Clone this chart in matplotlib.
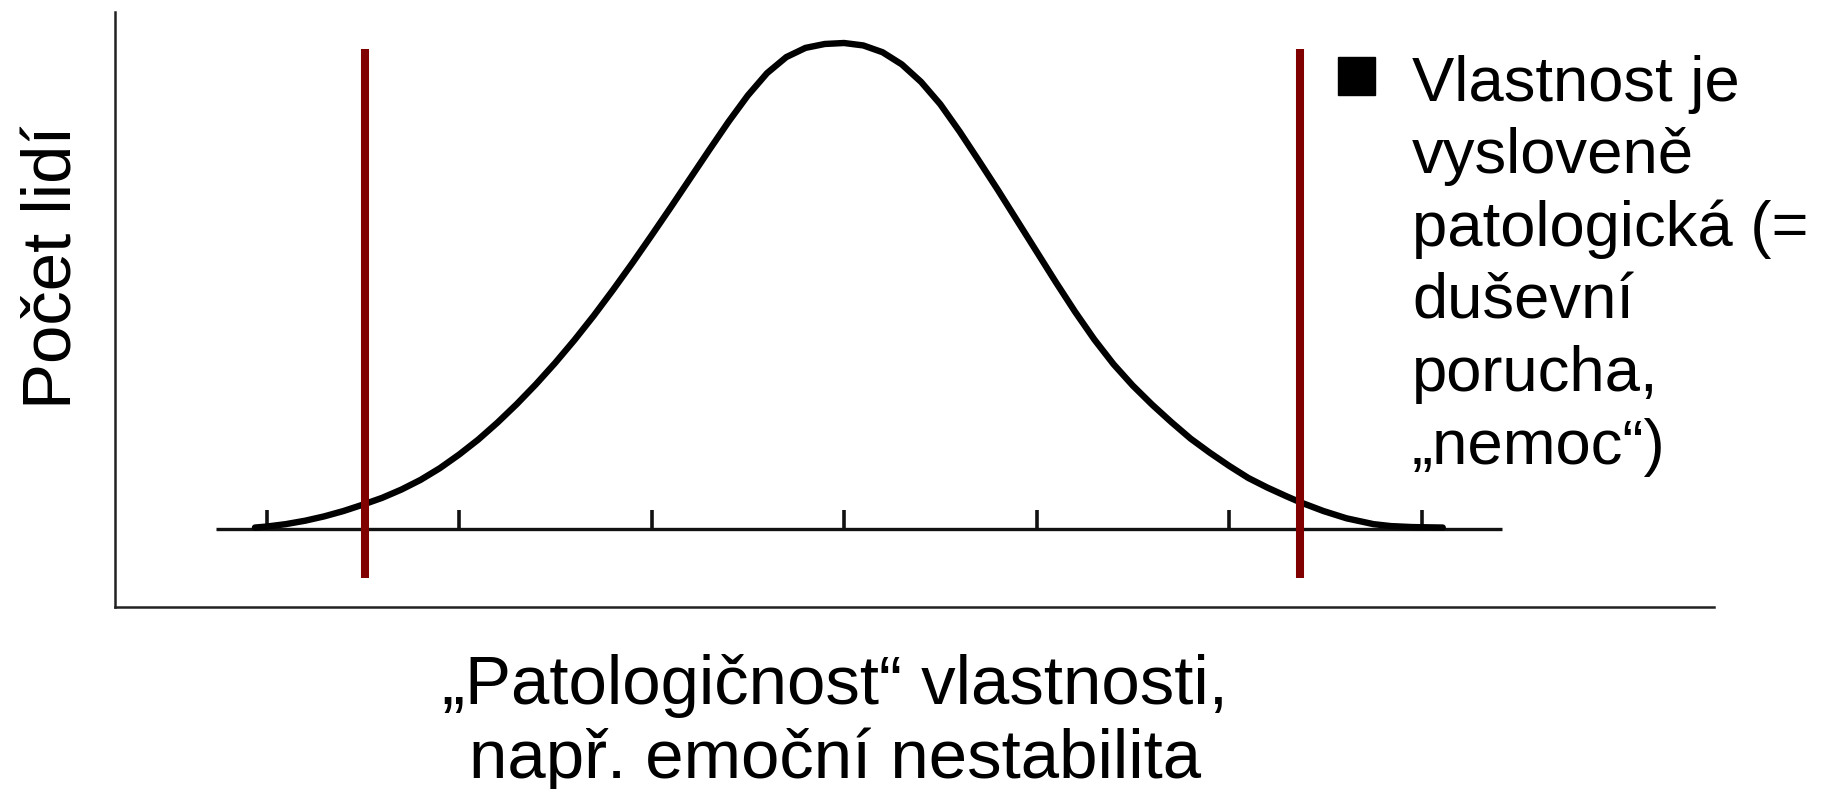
import matplotlib.pyplot as plt
from matplotlib.patches import Rectangle

plt.rcParams['font.family'] = ['Liberation Sans', 'DejaVu Sans']

# values: x in tick steps, y relative to the peak height
curve_x = [-3.06, -3.00, -2.90, -2.80, -2.70, -2.60, -2.50, -2.40, -2.30, -2.20,
           -2.10, -2.00, -1.90, -1.80, -1.70, -1.60, -1.50, -1.40, -1.30, -1.20,
           -1.10, -1.00, -0.90, -0.80, -0.70, -0.60, -0.50, -0.40, -0.30, -0.20,
           -0.10, 0.00, 0.10, 0.20, 0.30, 0.40, 0.50, 0.60, 0.70, 0.80,
           0.90, 1.00, 1.10, 1.20, 1.30, 1.40, 1.50, 1.60, 1.70, 1.80,
           1.90, 2.00, 2.10, 2.20, 2.30, 2.37, 2.49, 2.61, 2.75, 2.84,
           2.95, 3.11]
curve_y = [0.003, 0.005, 0.010, 0.017, 0.026, 0.037, 0.050, 0.064, 0.081, 0.101,
           0.125, 0.153, 0.184, 0.219, 0.257, 0.298, 0.342, 0.389, 0.439, 0.492,
           0.547, 0.604, 0.662, 0.721, 0.780, 0.838, 0.892, 0.938, 0.971, 0.990,
           0.998, 1.000, 0.995, 0.981, 0.956, 0.920, 0.874, 0.818, 0.758, 0.697,
           0.634, 0.571, 0.508, 0.447, 0.390, 0.339, 0.295, 0.256, 0.220, 0.186,
           0.157, 0.130, 0.105, 0.085, 0.067, 0.055, 0.037, 0.022, 0.010, 0.006,
           0.004, 0.003]
tick_x = [-3, -2, -1, 0, 1, 2, 3]
cutoff_x = [-2.49, 2.37]
baseline_x = [-3.26, 3.42]

ylabel = 'Počet lidí'
xlabel = '„Patologičnost“ vlastnosti,\nnapř. emoční nestabilita'
legend_label = 'Vlastnost je\nvysloveně\npatologická (=\nduševní\nporucha,\n„nemoc“)'

W, H = 1827, 789
fig = plt.figure(figsize=(W / 100, H / 100), dpi=100)
ax = fig.add_axes([115 / W, 1 - 607 / H, (1714 - 115) / W, (607 - 12) / H])
ax.set_xlim(-3.787, 4.519)
ax.set_ylim(-0.1605, 1.0638)
ax.spines['top'].set_visible(False)
ax.spines['right'].set_visible(False)
for s in ['left', 'bottom']:
    ax.spines[s].set_linewidth(1.8)
    ax.spines[s].set_color('#222222')
ax.set_xticks([])
ax.set_yticks([])

# the bell curve with its own little axis
ax.hlines(0, baseline_x[0], baseline_x[1], color='#111111', lw=2.4)
ax.vlines(tick_x, 0, 0.039, color='#111111', lw=2.6)
ax.plot(curve_x, curve_y, color='black', lw=4.6, solid_capstyle='round',
        solid_joinstyle='round')
ax.vlines(cutoff_x, -0.101, 0.988, color='#800000', lw=5.8, zorder=3)

# labels
fig.text(72 / W, 1 - 267 / H, ylabel, fontsize=49.7, rotation=90,
         rotation_mode='anchor', ha='center', va='baseline')
fig.text(835 / W, 1 - 778 / H, xlabel, fontsize=49.7, ha='center',
         va='baseline', multialignment='center', linespacing=1.18)

# legend
fig.add_artist(Rectangle((1338 / W, 1 - 95 / H), 37 / W, 38 / H,
                         transform=fig.transFigure, color='black'))
fig.text(1412 / W, 1 - 464 / H, legend_label, fontsize=45.6, ha='left',
         va='baseline', linespacing=1.295)

fig.savefig('out.png', dpi=100)
